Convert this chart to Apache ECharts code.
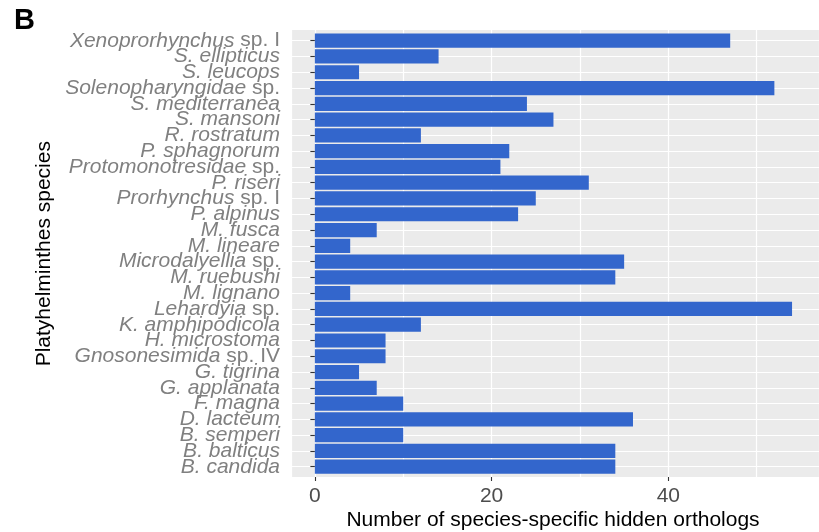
<!DOCTYPE html>
<html>
<head>
<meta charset="utf-8">
<script src="https://cdn.jsdelivr.net/npm/echarts@6/dist/echarts.min.js"></script>
<style>
html,body{margin:0;padding:0;background:#fff;}
#chart{width:819px;height:532px;}
</style>
</head>
<body>
<div id="chart"></div>
<script>
// ---- data ----
const species = [
  "Xenoprorhynchus sp. I", "S. ellipticus", "S. leucops", "Solenopharyngidae sp.",
  "S. mediterranea", "S. mansoni", "R. rostratum", "P. sphagnorum",
  "Protomonotresidae sp.", "P. riseri", "Prorhynchus sp. I", "P. alpinus",
  "M. fusca", "M. lineare", "Microdalyellia sp.", "M. ruebushi", "M. lignano",
  "Lehardyia sp.", "K. amphipodicola", "H. microstoma", "Gnosonesimida sp. IV",
  "G. tigrina", "G. applanata", "F. magna", "D. lacteum", "B. semperi",
  "B. balticus", "B. candida"
];
const hiddenOrthologs = [
  47, 14, 5, 52, 24, 27, 12, 22, 21, 31, 25, 23, 7, 4, 35, 34, 4,
  54, 12, 8, 8, 5, 7, 10, 36, 10, 34, 34
];
const xTicks = [0, 20, 40];
const xTitle = "Number of species-specific hidden orthologs";
const yTitle = "Platyhelminthes species";
const panelTag = "B";

// ---- chart ----
const FONT = "'Liberation Sans', Arial, Helvetica, sans-serif";
const chart = echarts.init(document.getElementById('chart'), null, {renderer: 'canvas'});

function fmtLabel(name) {
  const k = name.indexOf(' sp.');
  if (k >= 0) return '{i|' + name.slice(0, k) + '}{n|' + name.slice(k) + '}';
  return '{i|' + name + '}';
}

const XMIN = -2.7, XMAX = 57.05;
const PX_PER_UNIT = 528 / (XMAX - XMIN);
const X0 = 291 - XMIN * PX_PER_UNIT;
const X40 = X0 + 40 * PX_PER_UNIT;
const BAND = (474.6 - 32.8) / species.length;

chart.setOption({
  animation: false,
  backgroundColor: '#ffffff',
  title: [
    {
      text: panelTag, left: 9, top: 1,
      textStyle: {fontFamily: FONT, fontWeight: 'bold', fontSize: 29, color: '#000'}
    },
    {
      text: xTitle, left: 553, top: 510, textAlign: 'center', padding: 0,
      textStyle: {fontFamily: FONT, fontWeight: 'normal', fontSize: 21, lineHeight: 21, color: '#000'}
    }
  ],
  grid: [
    {left: 291, right: 0, top: 30, bottom: 55, show: true, backgroundColor: '#EBEBEB', borderWidth: 0},
    {left: 291, right: 0, top: 32.8, bottom: 57.4, show: false},
    {left: 291, right: 0, top: 32.8 + BAND / 2, bottom: 57.4 + BAND / 2, show: false},
    {left: X0, right: 819 - X40, top: 30, bottom: 55, show: false}
  ],
  xAxis: [
    {
      gridIndex: 0, type: 'value', min: XMIN, max: XMAX,
      axisLine: {show: false}, axisTick: {show: false}, axisLabel: {show: false},
      splitLine: {show: true, lineStyle: {color: '#ffffff', width: 1.2}}
    },
    {gridIndex: 1, type: 'value', min: XMIN, max: XMAX, show: false},
    {gridIndex: 2, type: 'value', min: XMIN, max: XMAX, show: false},
    {
      gridIndex: 3, type: 'value', min: 0, max: 40, interval: 20,
      axisLine: {show: false},
      axisTick: {show: true, length: 4, lineStyle: {color: '#333333', width: 1.1}},
      axisLabel: {show: true, margin: 9, color: '#4D4D4D', fontFamily: FONT, fontSize: 21,
                  showMinLabel: true, showMaxLabel: true},
      splitLine: {show: false}
    }
  ],
  yAxis: [
    {gridIndex: 0, type: 'value', show: false, min: 0, max: 1, splitLine: {show: false}},
    {
      gridIndex: 1, type: 'category', data: species, inverse: true,
      axisLine: {show: false},
      axisTick: {show: true, alignWithLabel: true, length: 4.5, lineStyle: {color: '#333333', width: 1.1}},
      splitLine: {show: false},
      axisLabel: {
        interval: 0, margin: 11,
        formatter: fmtLabel,
        rich: {
          i: {fontStyle: 'italic', color: '#808080', fontFamily: FONT, fontSize: 21},
          n: {fontStyle: 'normal', color: '#808080', fontFamily: FONT, fontSize: 21}
        }
      },
      name: yTitle, nameLocation: 'middle', nameGap: 236, nameRotate: 90,
      nameTextStyle: {color: '#000', fontFamily: FONT, fontSize: 21}
    },
    {
      gridIndex: 2, type: 'value', min: 0, max: species.length - 1, interval: 1, inverse: true,
      axisLine: {show: false}, axisTick: {show: false}, axisLabel: {show: false},
      splitLine: {show: true, lineStyle: {color: '#ffffff', width: 1.2}}
    },
    {gridIndex: 3, type: 'value', show: false, min: 0, max: 1}
  ],
  series: [{
    type: 'bar', xAxisIndex: 1, yAxisIndex: 1,
    data: hiddenOrthologs, barWidth: '90%',
    itemStyle: {color: '#3366CC'},
    z: 3
  }]
});
</script>
</body>
</html>
